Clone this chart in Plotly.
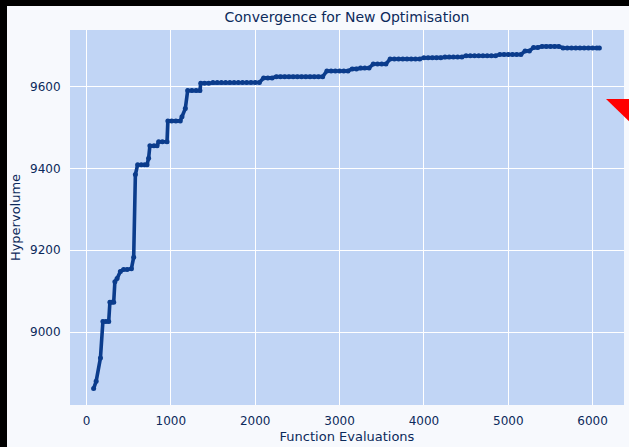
import plotly.graph_objects as go

# Hypervolume recorded against the number of function evaluations
evaluations = [
    85, 115, 166, 195, 230, 264, 278, 300, 323, 337, 363, 402, 440, 482,
    533, 560, 580, 607, 650, 690, 718, 737, 752, 800, 837, 856, 900, 955,
    965, 1010, 1060, 1112, 1132, 1172, 1200, 1250, 1300, 1345, 1355, 1400,
    1450, 1500, 1550, 1600, 1650, 1700, 1750, 1800, 1850, 1900, 1950, 2000,
    2050, 2100, 2150, 2200, 2250, 2300, 2350, 2400, 2450, 2500, 2550, 2600,
    2650, 2700, 2750, 2800, 2850, 2900, 2950, 3000, 3050, 3100, 3150, 3200,
    3250, 3300, 3350, 3400, 3450, 3500, 3550, 3600, 3650, 3700, 3750, 3800,
    3850, 3900, 3950, 4000, 4050, 4100, 4150, 4200, 4250, 4300, 4350, 4400,
    4450, 4500, 4550, 4600, 4650, 4700, 4750, 4800, 4850, 4900, 4950, 5000,
    5050, 5100, 5150, 5200, 5250, 5300, 5350, 5400, 5450, 5500, 5550, 5600,
    5650, 5700, 5750, 5800, 5850, 5900, 5950, 6000, 6050, 6080,
]
hypervolume = [
    8862, 8880, 8937, 9026, 9026, 9026, 9073, 9073, 9073, 9123, 9131, 9148, 9153, 9153,
    9155, 9183, 9385, 9409, 9409, 9409, 9409, 9425, 9455, 9455, 9455, 9465, 9465, 9465,
    9516, 9516, 9516, 9516, 9526, 9546, 9590, 9590, 9590, 9590, 9608, 9608,
    9608, 9610, 9610, 9610, 9610, 9610, 9610, 9610, 9610, 9610, 9610, 9610,
    9610, 9621, 9621, 9621, 9624, 9624, 9624, 9624, 9624, 9624, 9624, 9624,
    9624, 9624, 9624, 9624, 9638, 9638, 9638, 9638, 9638, 9638, 9643, 9643,
    9645, 9645, 9645, 9655, 9655, 9655, 9655, 9667, 9667, 9667, 9667, 9667,
    9667, 9667, 9667, 9670, 9670, 9670, 9670, 9670, 9672, 9672, 9672, 9672,
    9672, 9675, 9675, 9675, 9675, 9675, 9675, 9675, 9675, 9678, 9678, 9678,
    9678, 9678, 9678, 9687, 9687, 9695, 9695, 9698, 9698, 9698, 9698, 9698,
    9694, 9694, 9694, 9694, 9694, 9694, 9694, 9694, 9694, 9694,
]

x_ticks = [0, 1000, 2000, 3000, 4000, 5000, 6000]
y_ticks = [9000, 9200, 9400, 9600]

TEXT = "#0c2a5b"
LINE = "#0b3c8c"

fig = go.Figure(
    go.Scatter(
        x=evaluations,
        y=hypervolume,
        mode="lines+markers",
        line=dict(color=LINE, width=3.6),
        marker=dict(color=LINE, size=5),
        showlegend=False,
    )
)

fig.update_layout(
    width=629,
    height=447,
    margin=dict(l=70, r=5, t=30, b=40),
    paper_bgcolor="#f7f9fd",
    plot_bgcolor="#c1d5f5",
    font=dict(family="DejaVu Sans", size=12, color=TEXT),
    title=dict(
        text="Convergence for New Optimisation",
        x=0.5, xref="paper", xanchor="center",
        y=1 - 17 / 447, yanchor="middle",
        font=dict(size=14, color=TEXT),
    ),
    xaxis=dict(
        range=[-195, 6372],
        tickvals=x_ticks,
        showgrid=True, gridcolor="white", gridwidth=1.4,
        zeroline=False, showline=False,
        ticks="outside", ticklen=5, tickcolor="rgba(0,0,0,0)",
        title=dict(text="Function Evaluations", standoff=4, font=dict(size=13)),
    ),
    yaxis=dict(
        range=[8822, 9738],
        tickvals=y_ticks,
        showgrid=True, gridcolor="white", gridwidth=1.4,
        zeroline=False, showline=False,
        ticks="outside", ticklen=6, tickcolor="rgba(0,0,0,0)",
        title=dict(text="Hypervolume", standoff=6, font=dict(size=13)),
    ),
    shapes=[
        # dark frame along the left and top edges of the canvas
        dict(type="rect", xref="paper", yref="paper",
             xsizemode="pixel", ysizemode="pixel", xanchor=0, yanchor=0,
             x0=-80, x1=-63, y0=-50, y1=430,
             fillcolor="black", line=dict(width=0), layer="above"),
        dict(type="rect", xref="paper", yref="paper",
             xsizemode="pixel", ysizemode="pixel", xanchor=0, yanchor=1,
             x0=-80, x1=600, y0=24, y1=40,
             fillcolor="black", line=dict(width=0), layer="above"),
        # red corner marker on the right edge
        dict(type="path", xref="paper", yref="paper",
             xsizemode="pixel", ysizemode="pixel", xanchor=1, yanchor=1,
             path="M-18,-69 L10,-69 L10,-96 Z",
             fillcolor="#ff0000", line=dict(width=0), layer="above"),
    ],
)

fig.write_html("out.html")
